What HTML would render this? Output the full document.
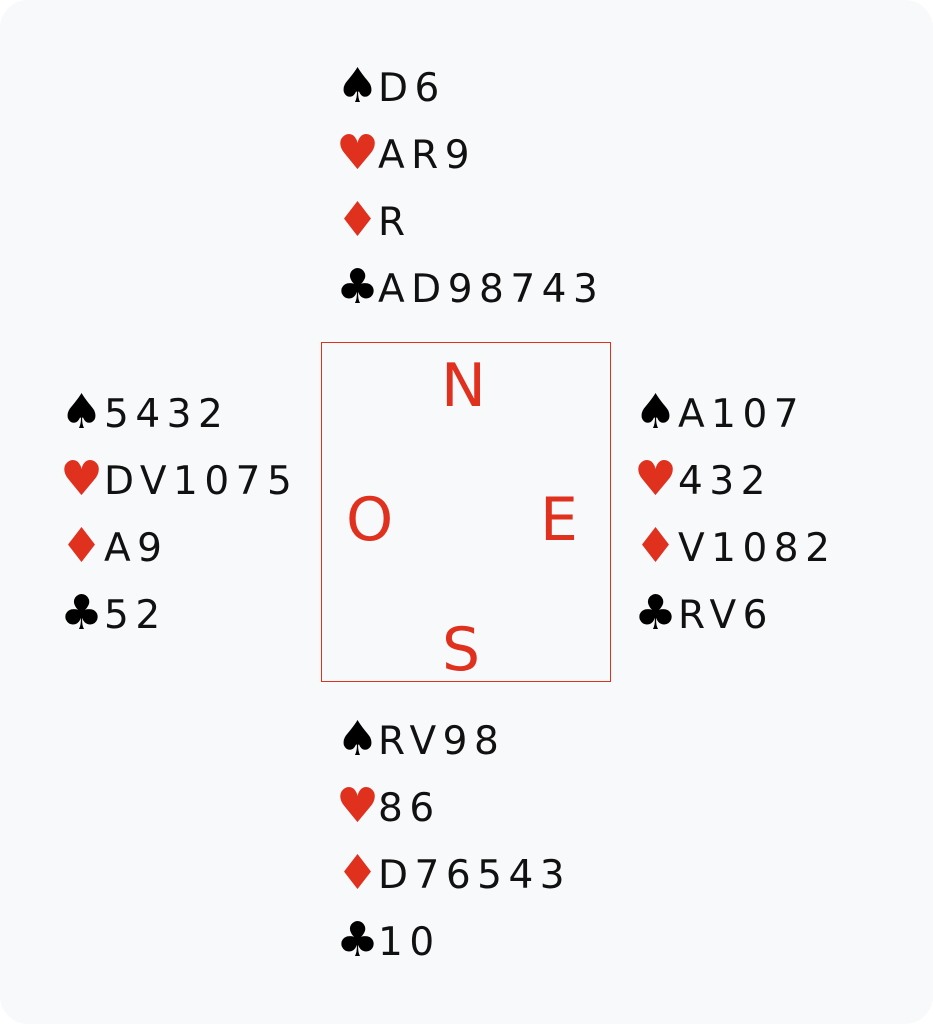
<!DOCTYPE html>
<html><head><style>
body{margin:0;width:933px;height:1024px;background:#fff;overflow:hidden;}
#bg{position:absolute;left:0;top:0;width:933px;height:1024px;background:#f8f9fb;border-radius:28px;}
.l{position:absolute;font-family:"DejaVu Sans","Liberation Sans",sans-serif;font-size:39px;letter-spacing:6.5px;color:#111;line-height:1;white-space:nowrap;}
.s{position:absolute;font-family:"DejaVu Sans",sans-serif;font-size:48px;line-height:1;}
.r{color:#e0301e}.k{color:#000}
.b{position:absolute;left:321px;top:342px;width:288px;height:338px;border:1px solid #e0301e;}
.d{position:absolute;font-family:"DejaVu Sans","Liberation Sans",sans-serif;font-size:60px;color:#e0301e;line-height:1;}
</style></head><body><div id="bg"></div>
<div class="b"></div>
<div class="d" style="left:441px;top:356px">N</div>
<div class="d" style="left:346px;top:490px">O</div>
<div class="d" style="left:540px;top:490px">E</div>
<div class="d" style="left:442px;top:620px">S</div>
<script>
const hands=[[336,378,69,["D6","AR9","R","AD98743"]],[60,104,395,["5432","DV1075","A9","52"]],[634,678,395,["A107","432","V1082","RV6"]],[336,378,722,["RV98","86","D76543","10"]]];
const suits=[["♠","k"],["♥","r"],["♦","r"],["♣","k"]];
let h="";
for(const [sx,tx,y0,c] of hands){c.forEach((t,i)=>{const y=y0+i*67;h+=`<div class="s ${suits[i][1]}" style="left:${sx}px;top:${y-7}px">${suits[i][0]}</div><div class="l" style="left:${tx}px;top:${y}px">${t}</div>`;});}
document.body.insertAdjacentHTML("beforeend",h);
</script>
</body></html>
